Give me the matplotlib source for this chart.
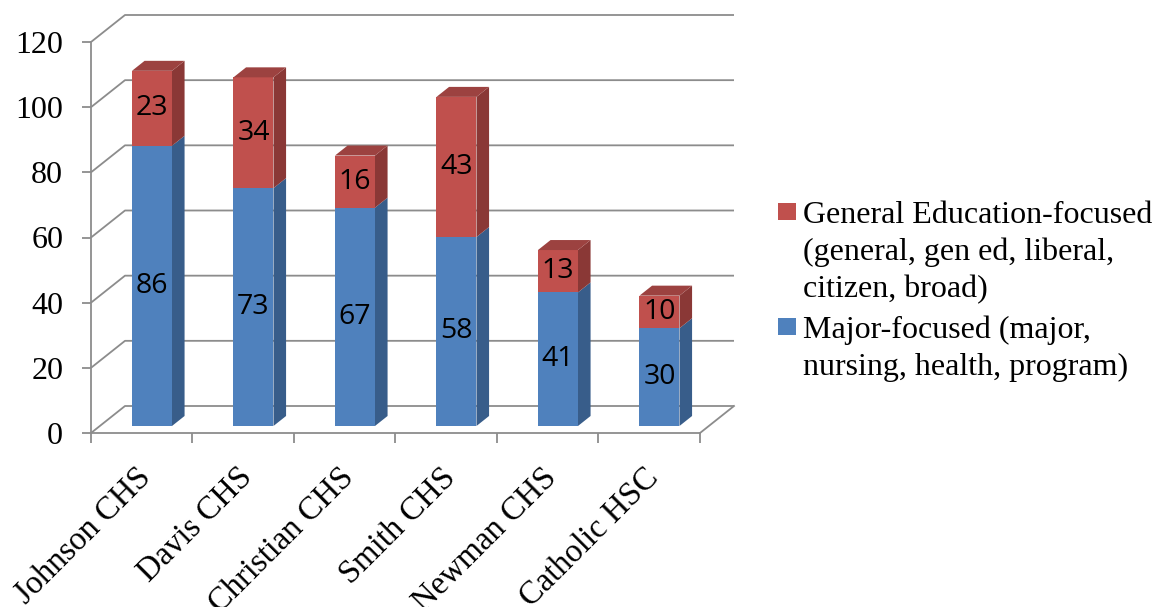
import matplotlib
matplotlib.use("Agg")
import matplotlib.pyplot as plt
from matplotlib.patches import Polygon, Rectangle
from matplotlib.transforms import ScaledTranslation

# ---- data ----
schools = ["Johnson CHS", "Davis CHS", "Christian CHS", "Smith CHS", "Newman CHS", "Catholic HSC"]
major_focused = [86, 73, 67, 58, 41, 30]
gen_ed_focused = [23, 34, 16, 43, 13, 10]
y_ticks = [0, 20, 40, 60, 80, 100, 120]
legend_gen_ed = ["General Education-focused", "(general, gen ed, liberal,", "citizen, broad)"]
legend_major = ["Major-focused (major,", "nursing, health, program)"]

# ---- style ----
W, H, DPI = 1165, 607, 100
SERIF = "Liberation Serif"
SANS = "Open Sans"
GRID = "#8c8c8c"
BLUE = ("#4f81bd", "#385d8a", "#42699b")   # front, side, top
RED = ("#c0504d", "#8a3836", "#9c4240")

fig = plt.figure(figsize=(W / DPI, H / DPI), dpi=DPI)
fig.patch.set_facecolor("white")

# front plane of the chart box, in pixels
x0, x1, ybot, ytop = 91, 700, 433, 42
ax = fig.add_axes([x0 / W, 1 - ybot / H, (x1 - x0) / W, (ybot - ytop) / H])
ax.set_xlim(0, len(schools))
ax.set_ylim(0, 120)
ax.patch.set_visible(False)

# oblique depth of the wall (pixels -> data units)
px_x = (x1 - x0) / len(schools)
px_y = (ybot - ytop) / 120
DX = 34 / px_x
DY = 27 / px_y


def proj(x, y, d):
    return (x + d * DX, y + d * DY)


# walls and floor grid
n = len(schools)
for v in y_ticks:
    xs = [0, DX, n + DX]
    ys = [v, v + DY, v + DY]
    ax.plot(xs, ys, color=GRID, lw=1.3, clip_on=False, zorder=1, solid_capstyle="butt")
ax.plot([n, n + DX], [0, DY], color=GRID, lw=1.3, clip_on=False, zorder=1)

# bars
F, B = 0.26, 0.63          # front / back depth of the bars
BW = 40 / px_x             # bar width
XOFF = 1.4 / px_x
for i, (m, g) in enumerate(zip(major_focused, gen_ed_focused)):
    cx = i + 0.5 + XOFF
    xl, xr = cx - BW / 2, cx + BW / 2
    segs = [(0, m, BLUE, m), (m, m + g, RED, g)]
    for k, (lo, hi, col, val) in enumerate(segs):
        front = [proj(xl, lo, F), proj(xr, lo, F), proj(xr, hi, F), proj(xl, hi, F)]
        side = [proj(xr, lo, F), proj(xr, lo, B), proj(xr, hi, B), proj(xr, hi, F)]
        ax.add_patch(Polygon(side, closed=True, facecolor=col[1], edgecolor="none",
                             clip_on=False, zorder=3))
        ax.add_patch(Polygon(front, closed=True, facecolor=col[0], edgecolor="none",
                             clip_on=False, zorder=4))
        if k == len(segs) - 1:
            top = [proj(xl, hi, F), proj(xr, hi, F), proj(xr, hi, B), proj(xl, hi, B)]
            ax.add_patch(Polygon(top, closed=True, facecolor=col[2], edgecolor="none",
                                 clip_on=False, zorder=4))
        lx, ly = proj(cx, (lo + hi) / 2, F)
        ax.text(lx, ly, str(val), ha="center", va="center", fontsize=20.5,
                family=SANS, color="black", zorder=6)

# axes: spines and ticks
for s in ("top", "right"):
    ax.spines[s].set_visible(False)
for s in ("left", "bottom"):
    ax.spines[s].set_color(GRID)
    ax.spines[s].set_linewidth(1.3)
    ax.spines[s].set_zorder(2)

ax.set_yticks(y_ticks)
ax.set_yticklabels([str(v) for v in y_ticks], family=SERIF, fontsize=23)
ax.tick_params(axis="y", which="major", length=6.5, width=1.3, color=GRID, pad=13.5)

ax.set_xticks(range(n + 1))
ax.set_xticklabels([])
ax.tick_params(axis="x", which="major", length=7.5, width=1.3, color=GRID)
ax.set_xticks([i + 0.5 for i in range(n)], minor=True)
ax.set_xticklabels(schools, minor=True, family=SERIF, fontsize=23.5,
                   rotation=45, ha="right", va="top", rotation_mode="anchor")
ax.tick_params(axis="x", which="minor", length=0, pad=21)
shift = ScaledTranslation(-6 / DPI, 0, fig.dpi_scale_trans)
for lab in ax.get_xticklabels(minor=True):
    lab.set_transform(lab.get_transform() + shift)

# legend
def fx(px):
    return px / W


def fy(py):
    return 1 - py / H


entries = [(RED[0], legend_gen_ed, 223), (BLUE[0], legend_major, 338)]
for col, lines, base in entries:
    fig.patches.append(Rectangle((fx(778), fy(base - 3)), 18 / W, 17 / H,
                                 transform=fig.transFigure, facecolor=col,
                                 edgecolor="none"))
    for j, line in enumerate(lines):
        fig.text(fx(803), fy(base + 37 * j), line, family=SERIF, fontsize=23,
                 ha="left", va="baseline", color="black")

fig.savefig("out.png", dpi=DPI, facecolor="white")
